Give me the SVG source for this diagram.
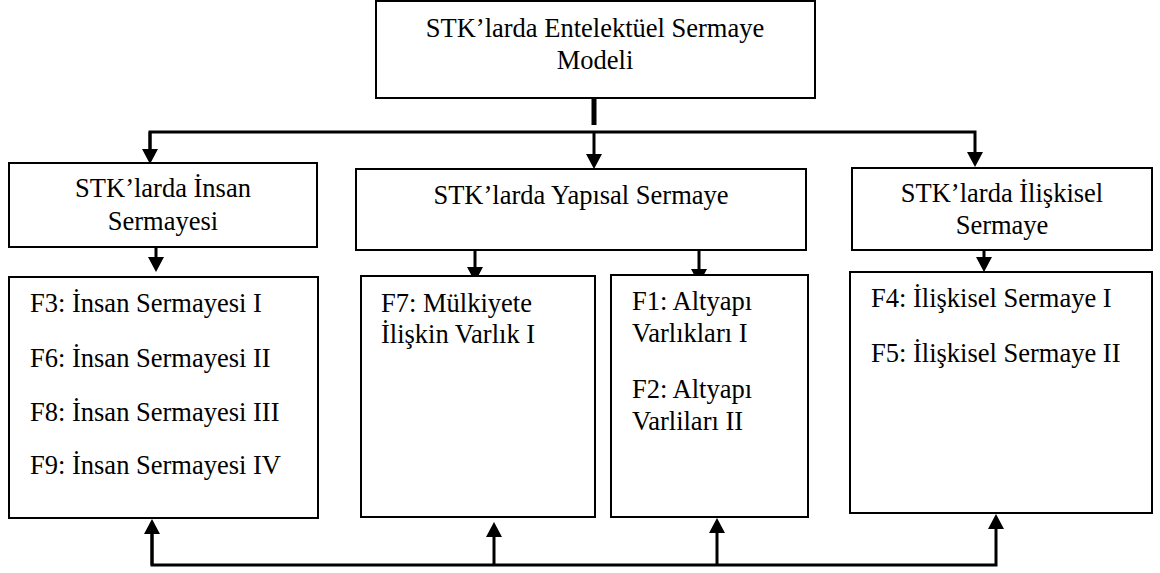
<svg xmlns="http://www.w3.org/2000/svg" width="1160" height="573" viewBox="0 0 1160 573">
<style>
.box{fill:#fff;stroke:#000;stroke-width:2}
.t{font-family:"Liberation Serif","Times New Roman",serif;font-size:26.5px;fill:#000}
.c{text-anchor:middle}
.ln{fill:none;stroke:#000;stroke-width:3}
</style>
<defs>
<marker id="ah" markerUnits="userSpaceOnUse" markerWidth="15" markerHeight="16" refX="0" refY="8" orient="auto" viewBox="0 0 15 16">
<path d="M0,0 L15,8 L0,16 z" fill="#000"/>
</marker>
</defs>
<rect width="1160" height="573" fill="#fff"/>
<g id="connectors">
<line x1="594" y1="99" x2="594" y2="125" stroke="#000" stroke-width="5"/>
<polyline class="ln" points="150,149 150,132 975,132 975,152" marker-end="url(#ah)"/>
<line class="ln" x1="150" y1="132" x2="150" y2="149" marker-end="url(#ah)"/>
<line class="ln" x1="594" y1="132" x2="594" y2="154" marker-end="url(#ah)"/>
<line class="ln" x1="156" y1="238" x2="156" y2="257" marker-end="url(#ah)"/>
<line class="ln" x1="475" y1="248" x2="475" y2="267" marker-end="url(#ah)"/>
<line class="ln" x1="699" y1="250" x2="699" y2="269" marker-end="url(#ah)"/>
<line class="ln" x1="984" y1="238" x2="984" y2="257" marker-end="url(#ah)"/>
<polyline class="ln" points="152,534 152,565 996,565 996,529" marker-end="url(#ah)"/>
<line class="ln" x1="152" y1="565" x2="152" y2="534" marker-end="url(#ah)"/>
<line class="ln" x1="494" y1="565" x2="494" y2="537" marker-end="url(#ah)"/>
<line class="ln" x1="717" y1="565" x2="717" y2="533" marker-end="url(#ah)"/>
</g>
<g id="top">
<rect class="box" x="376" y="1" width="439" height="97"/>
<text class="t c" x="595" y="37">STK’larda Entelektüel Sermaye</text>
<text class="t c" x="595" y="69">Modeli</text>
</g>
<g id="insan">
<rect class="box" x="9" y="163" width="308" height="84"/>
<text class="t c" x="163" y="197">STK’larda İnsan</text>
<text class="t c" x="163" y="230">Sermayesi</text>
</g>
<g id="yapisal">
<rect class="box" x="356" y="169" width="450" height="81"/>
<text class="t c" x="581" y="204">STK’larda Yapısal Sermaye</text>
</g>
<g id="iliskisel">
<rect class="box" x="852" y="168" width="300" height="82"/>
<text class="t c" x="1002" y="202">STK’larda İlişkisel</text>
<text class="t c" x="1002" y="234">Sermaye</text>
</g>
<g id="insan-items">
<rect class="box" x="9" y="277" width="309" height="241"/>
<text class="t" x="30" y="312">F3: İnsan Sermayesi I</text>
<text class="t" x="30" y="367">F6: İnsan Sermayesi II</text>
<text class="t" x="30" y="421">F8: İnsan Sermayesi III</text>
<text class="t" x="30" y="474">F9: İnsan Sermayesi IV</text>
</g>
<g id="mulkiyet">
<rect class="box" x="361" y="276" width="234" height="241"/>
<text class="t" x="381" y="312">F7: Mülkiyete</text>
<text class="t" x="381" y="343">İlişkin Varlık I</text>
</g>
<g id="altyapi">
<rect class="box" x="611" y="275" width="197" height="242"/>
<text class="t" x="632" y="310">F1: Altyapı</text>
<text class="t" x="632" y="342">Varlıkları I</text>
<text class="t" x="632" y="398">F2: Altyapı</text>
<text class="t" x="632" y="430">Varliları II</text>
</g>
<g id="iliskisel-items">
<rect class="box" x="850" y="272" width="302" height="241"/>
<text class="t" x="871" y="307">F4: İlişkisel Sermaye I</text>
<text class="t" x="871" y="362">F5: İlişkisel Sermaye II</text>
</g>
</svg>
